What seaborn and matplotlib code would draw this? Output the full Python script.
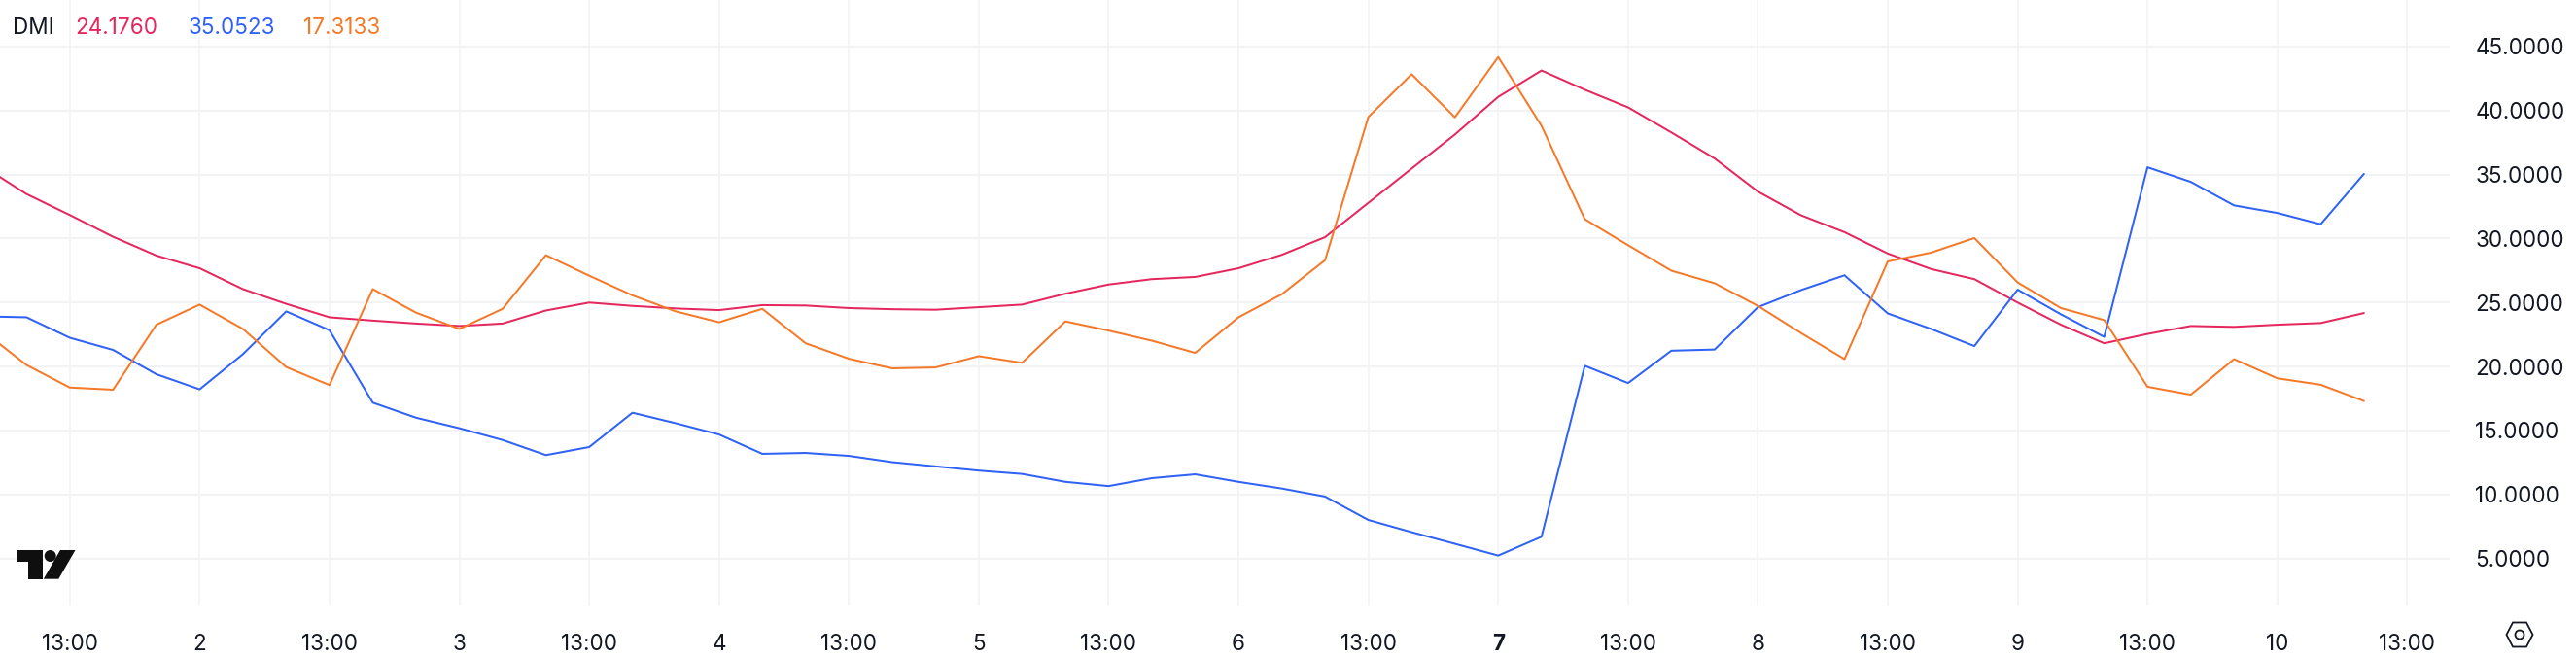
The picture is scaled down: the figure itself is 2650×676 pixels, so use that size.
import matplotlib
matplotlib.use('Agg')
import matplotlib.pyplot as plt
from matplotlib.patches import Polygon, Circle, Ellipse
import pandas as pd
import seaborn as sns

# valores (um ponto a cada 4 barras de grade / 3 por rotulo)
adx = [35.64, 33.48, 31.84, 30.14, 28.67, 27.68, 26.05, 24.90, 23.85, 23.59, 23.36, 23.17, 23.36, 24.38,
       25.00, 24.74, 24.54, 24.41, 24.80, 24.77, 24.57, 24.48, 24.44, 24.64, 24.84, 25.69, 26.41, 26.83,
       27.00, 27.68, 28.73, 30.11, 32.79, 35.47, 38.13, 41.07, 43.13, 41.63, 40.25, 38.29, 36.26, 33.67,
       31.81, 30.50, 28.83, 27.62, 26.83, 25.00, 23.27, 21.82, 22.55, 23.17, 23.10, 23.27, 23.40, 24.18]
di_mais = [23.92, 23.85, 22.25, 21.30, 19.40, 18.22, 20.97, 24.31, 22.84, 17.18, 16.00, 15.18, 14.26, 13.08,
           13.71, 16.39, 15.57, 14.69, 13.18, 13.25, 13.02, 12.53, 12.20, 11.87, 11.61, 10.99, 10.66, 11.28,
           11.58, 10.99, 10.47, 9.84, 8.01, 7.06, 6.15, 5.23, 6.70, 20.06, 18.71, 21.24, 21.33, 24.64,
           25.98, 27.13, 24.15, 22.94, 21.60, 26.01, 24.08, 22.32, 35.57, 34.43, 32.59, 32.00, 31.12, 35.05]
di_menos = [22.77, 20.12, 18.36, 18.19, 23.27, 24.84, 22.94, 19.96, 18.55, 26.05, 24.21, 22.94, 24.51, 28.70,
            27.10, 25.56, 24.31, 23.46, 24.51, 21.82, 20.61, 19.86, 19.93, 20.81, 20.29, 23.53, 22.81, 22.02,
            21.07, 23.85, 25.65, 28.31, 39.50, 42.84, 39.47, 44.18, 38.81, 31.51, 29.48, 27.49, 26.51, 24.74,
            22.61, 20.58, 28.21, 28.90, 30.04, 26.57, 24.57, 23.63, 18.42, 17.80, 20.58, 19.08, 18.58, 17.31]

rotulos_x = ['13:00', '2', '13:00', '3', '13:00', '4', '13:00', '5', '13:00', '6',
             '13:00', '7', '13:00', '8', '13:00', '9', '13:00', '10', '13:00']
rotulos_y = ['5.0000', '10.0000', '15.0000', '20.0000', '25.0000', '30.0000', '35.0000', '40.0000', '45.0000']
valores_y = [5, 10, 15, 20, 25, 30, 35, 40, 45]
legenda = ['24.1760', '35.0523', '17.3133']

VERMELHO = '#E5275F'
AZUL = '#2F62F5'
LARANJA = '#F47A2A'
TEXTO = '#131722'
GRADE = '#F2F3F4'

LARG, ALT = 2650, 676

sns.set_theme(style='white')
plt.rcParams['font.family'] = ['Inter', 'DejaVu Sans']

indice = list(range(len(adx)))
dados = pd.DataFrame({
    'x': indice * 3,
    'valor': adx + di_mais + di_menos,
    'serie': ['adx'] * len(adx) + ['mais'] * len(di_mais) + ['menos'] * len(di_menos),
})

fig = plt.figure(figsize=(LARG / 100, ALT / 100), dpi=100, facecolor='white')
ax = fig.add_axes([0, 1 - 623 / ALT, 2520 / LARG, 623 / ALT])

sns.lineplot(data=dados, x='x', y='valor', hue='serie', ax=ax, legend=False, linewidth=1.45,
             palette={'adx': VERMELHO, 'mais': AZUL, 'menos': LARANJA}, estimator=None, sort=False)

ax.set_xlim(0.388, 56.98)
ax.set_ylim(1.33, 48.64)
ax.set_xlabel('')
ax.set_ylabel('')
sns.despine(ax=ax, left=True, bottom=True, right=True, top=True)

# grade
ax.set_xticks(range(2, 2 + 3 * len(rotulos_x), 3))
ax.set_xticklabels(rotulos_x)
ax.set_yticks(valores_y)
ax.set_yticklabels(rotulos_y)
ax.grid(True, axis='y', color=GRADE, linewidth=1.5)
ax.grid(True, axis='x', color=GRADE, linewidth=1.1)
ax.set_axisbelow(True)
ax.tick_params(axis='x', length=0, pad=21, labelsize=16.2, labelcolor=TEXTO)
ax.tick_params(axis='y', length=0, labelsize=16.2, labelcolor=TEXTO, labelright=True, labelleft=False, pad=19)
for rot in ax.get_yticklabels():
    rot.set_ha('left')
for rot in ax.get_xticklabels():
    if rot.get_text() == '7':
        rot.set_fontweight('bold')


def px(x, y):
    return x / LARG, 1 - y / ALT


# legenda de cima
fig.text(*px(13, 29), 'DMI', color=TEXTO, fontsize=16.2, va='center')
for txt, cor, x0 in zip(legenda, [VERMELHO, AZUL, LARANJA], [77, 194, 312]):
    fig.text(*px(x0, 29), txt, color=cor, fontsize=16.2, va='center')

# logo
preto = '#0F0F0F'
t = [(17.2, 566), (44.2, 566), (44.2, 595.7), (28.7, 595.7), (28.7, 577.6), (17.2, 577.6)]
barra = [(62, 566), (77.5, 566), (60.3, 595.7), (44.8, 595.7)]
fig.add_artist(Polygon([px(*p) for p in t], closed=True, transform=fig.transFigure, fc=preto, ec='none'))
fig.add_artist(Polygon([px(*p) for p in barra], closed=True, transform=fig.transFigure, fc=preto, ec='none'))
fig.add_artist(Ellipse(px(51.7, 572), 12 / LARG, 12 / ALT, transform=fig.transFigure, fc=preto, ec='none'))

# icone de ajustes
hexa = [(2592, 640), (2604, 646.5), (2604, 659.5), (2592, 666), (2580, 659.5), (2580, 646.5)]
hexa = [(2578.5, 653), (2585, 640.5), (2599, 640.5), (2605.5, 653), (2599, 665.5), (2585, 665.5)]
fig.add_artist(Polygon([px(*p) for p in hexa], closed=True, transform=fig.transFigure, fc='none', ec=TEXTO, lw=1.3))
fig.add_artist(Ellipse(px(2592, 653), 9 / LARG, 9 / ALT, transform=fig.transFigure, fc='none', ec=TEXTO, lw=1.3))

fig.savefig('out.png', dpi=100)
